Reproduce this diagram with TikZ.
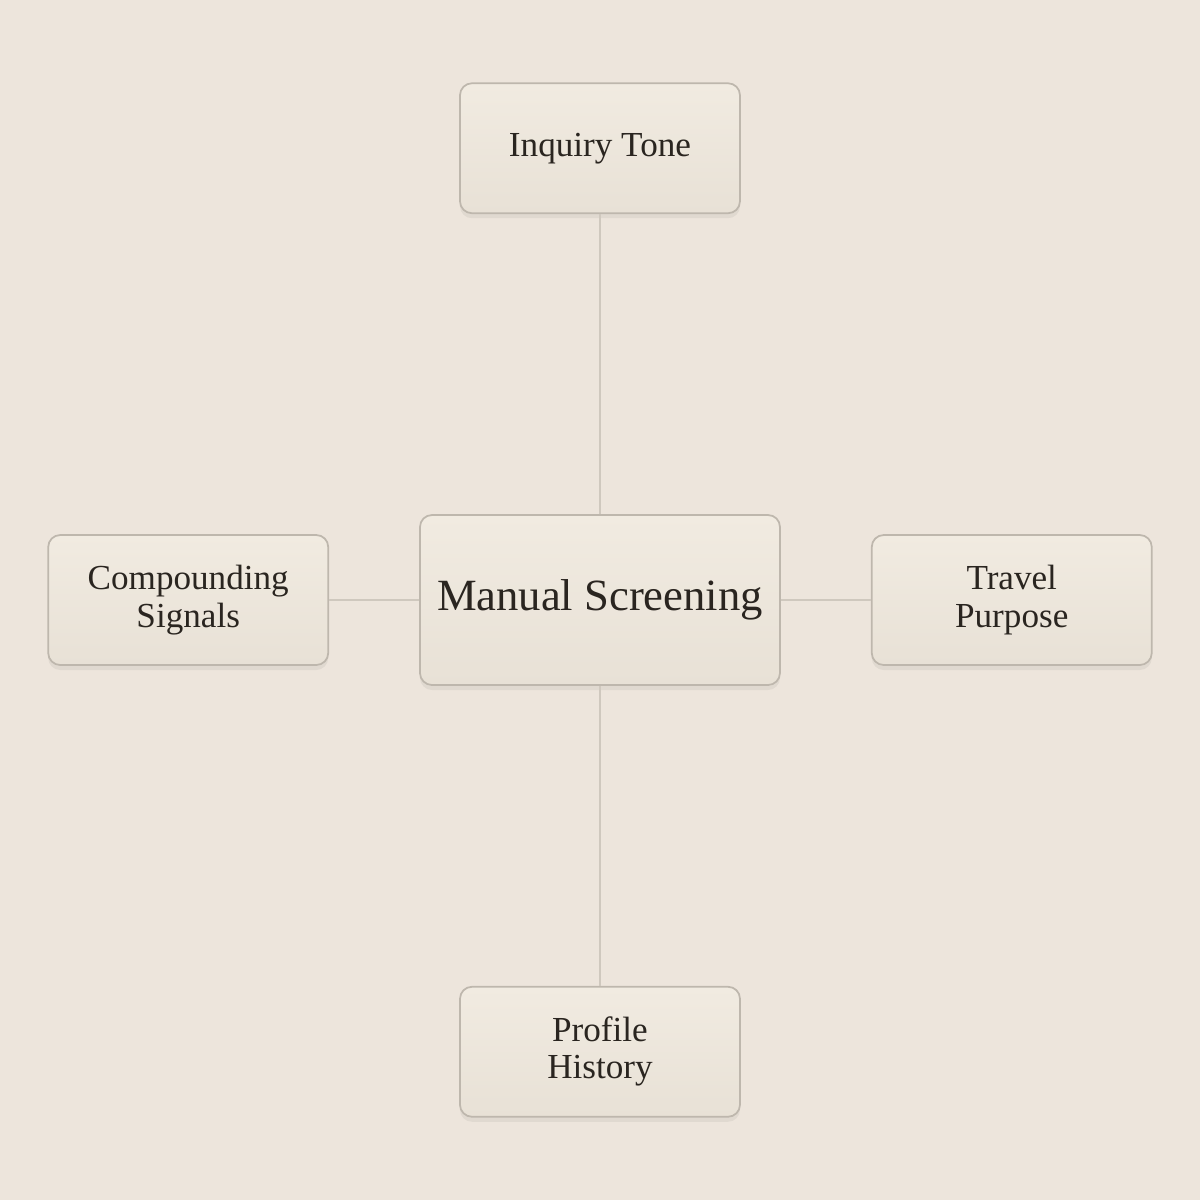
\documentclass[tikz,border=0pt]{standalone}
\usepackage{fontspec}
\setmainfont{Liberation Serif}
\usetikzlibrary{positioning,shadows}

\definecolor{bgcol}{HTML}{EDE5DC}
\definecolor{boxtop}{HTML}{F1EBE1}
\definecolor{boxbot}{HTML}{E8E1D6}
\definecolor{boxline}{HTML}{BEB7AD}
\definecolor{linkcol}{HTML}{CFC8BE}
\definecolor{inkcol}{HTML}{2A2520}

\begin{document}
\begin{tikzpicture}[node distance=3cm]

        % Styles
        \tikzstyle{card}=[rectangle, draw=boxline, line width=0.5pt, rounded corners=0.12cm, align=center, text=inkcol, top color=boxtop, bottom color=boxbot, minimum width=2.8cm, minimum height=1.3cm, font=\fontsize{10}{10.6}\selectfont, drop shadow={shadow xshift=0cm, shadow yshift=-0.05cm, fill=black, opacity=0.05}]
        \tikzstyle{hub}=[card, minimum width=3.6cm, minimum height=1.7cm, font=\fontsize{12.7}{15}\selectfont]
        \tikzstyle{link}=[draw=linkcol, line width=0.6pt]

        % Fond
        \fill[bgcol] (-6,-6) rectangle (6,6);
        \useasboundingbox (-6,-6) rectangle (6,6);

        % Nodes
        \node[hub] (screen) at (0,0) {Manual Screening};
        \node[card, above=of screen] (tone) {Inquiry Tone};
        \node[card, below=of screen] (profile) {Profile\\History};
        \node[card, left=0.9cm of screen] (signals) {Compounding\\Signals};
        \node[card, right=0.9cm of screen] (purpose) {Travel\\Purpose};

        % Lines
        \draw[link] (screen) -- (tone);
        \draw[link] (screen) -- (profile);
        \draw[link] (screen) -- (signals);
        \draw[link] (screen) -- (purpose);

    \end{tikzpicture}
\end{document}
